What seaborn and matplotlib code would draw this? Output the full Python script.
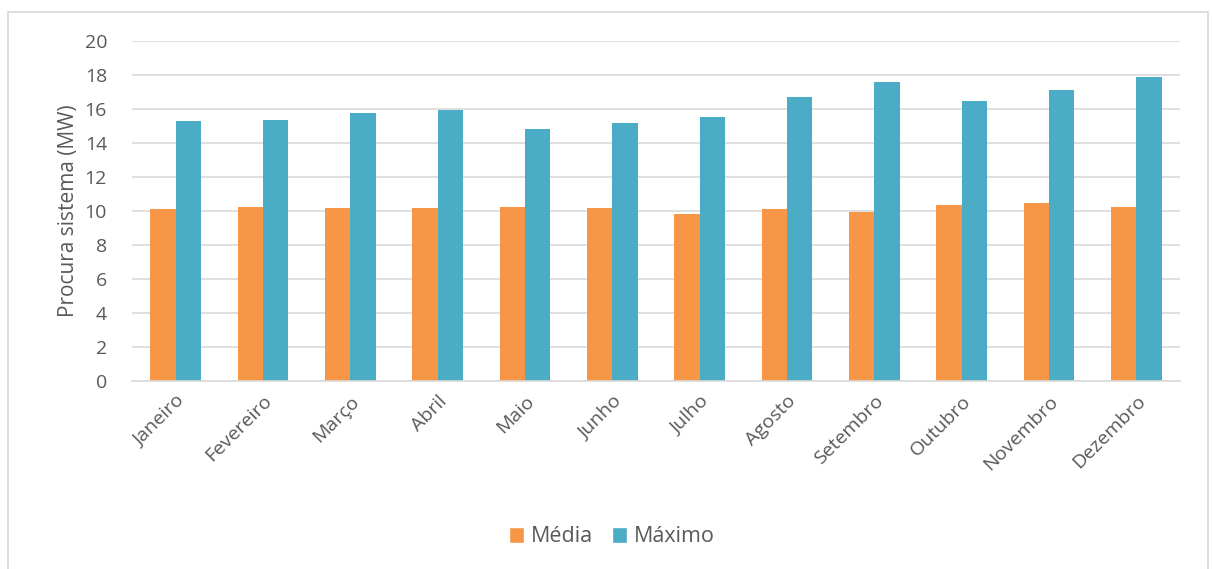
import matplotlib
matplotlib.use("Agg")
import matplotlib.pyplot as plt
from matplotlib.patches import Rectangle, Patch
import seaborn as sns
import pandas as pd

# Monthly system demand (MW)
meses = ["Janeiro", "Fevereiro", "Março", "Abril", "Maio", "Junho",
         "Julho", "Agosto", "Setembro", "Outubro", "Novembro", "Dezembro"]
media = [10.1, 10.25, 10.2, 10.2, 10.24, 10.15, 9.82, 10.14, 9.96, 10.35, 10.45, 10.24]
maximo = [15.3, 15.35, 15.75, 15.95, 14.82, 15.2, 15.53, 16.73, 17.57, 16.45, 17.12, 17.9]
series = ["Média", "Máximo"]
cores = ["#F79646", "#4BACC6"]
yticks = list(range(0, 21, 2))

df = pd.DataFrame({
    "Mês": meses * 2,
    "Série": [series[0]] * len(meses) + [series[1]] * len(meses),
    "Valor": media + maximo,
})

sns.set_theme(style="white")
plt.rcParams["font.family"] = ["Open Sans", "DejaVu Sans"]
texto = "#595959"

fig = plt.figure(figsize=(12.12, 5.69), dpi=100)
ax = fig.add_axes([132 / 1212, 1 - 381 / 569, (1180 - 132) / 1212, (381 - 41) / 569])

sns.barplot(data=df, x="Mês", y="Valor", hue="Série", order=meses,
            hue_order=series, palette=cores, width=0.58, gap=0,
            saturation=1, ax=ax, legend=False, linewidth=0)

ax.set_ylim(0, 20)
ax.set_yticks(yticks)
ax.set_xlim(-0.5, len(meses) - 0.5)
ax.yaxis.grid(True, color="#D9D9D9", linewidth=1.2)
ax.set_axisbelow(True)
for s in ["top", "right", "left"]:
    ax.spines[s].set_visible(False)
ax.spines["bottom"].set_color("#D9D9D9")
ax.spines["bottom"].set_linewidth(1.2)
ax.tick_params(axis="both", length=0, colors=texto, labelsize=14, pad=8)
ax.tick_params(axis="y", pad=18)
plt.setp(ax.get_xticklabels(), rotation=45, ha="right", rotation_mode="anchor")
ax.set_xlabel("")
ax.set_ylabel("Procura sistema (MW)", color=texto, fontsize=15, labelpad=4)

handles = [Patch(facecolor=c, label=s) for c, s in zip(cores, series)]
fig.legend(handles=handles, loc="center", bbox_to_anchor=(612 / 1212, 1 - 537 / 569),
           ncol=2, frameon=False, fontsize=15.5, handlelength=0.7, handleheight=0.7,
           handletextpad=0.3, columnspacing=0.9, labelcolor=texto)

# chart area border
fig.patches.append(Rectangle((8 / 1212, -0.01), 1200 / 1212, 1 - 12 / 569 + 0.01,
                             transform=fig.transFigure, fill=False,
                             edgecolor="#D9D9D9", linewidth=1.2))

fig.savefig("out.png", dpi=100)
